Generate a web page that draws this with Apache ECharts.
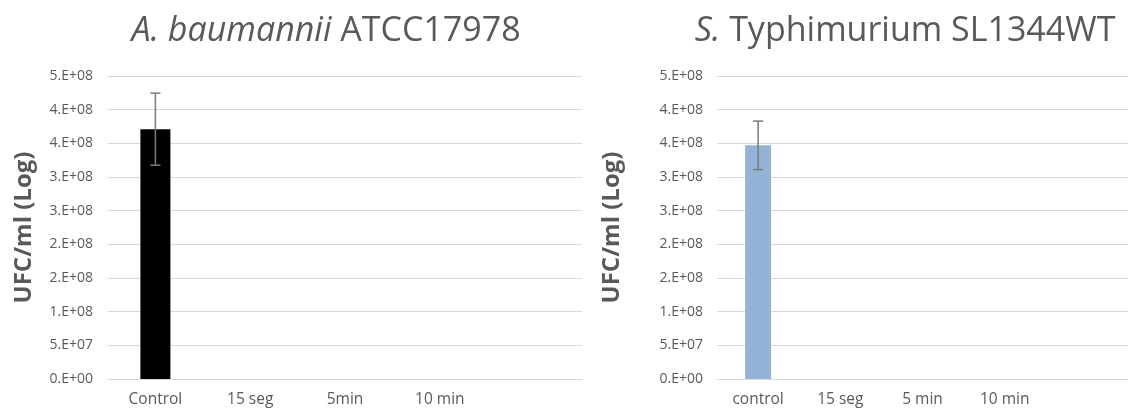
<!DOCTYPE html>
<html>
<head>
<meta charset="utf-8">
<script src="https://cdn.jsdelivr.net/npm/echarts@6/dist/echarts.min.js"></script>
<style>
  html, body { margin: 0; padding: 0; background: #ffffff; }
  #chart { width: 1128px; height: 411px; }
</style>
</head>
<body>
<div id="chart"></div>
<script>
// Viable counts per exposure time for two strains
const categoriesAb = ['Control', '15 seg', '5min', '10 min', ''];
const categoriesSt = ['control', '15 seg', '5 min', '10 min', ''];
const valuesAb = [3.71e8, 0, 0, 0, null];
const errorsAb = [0.535e8, null, null, null, null];
const valuesSt = [3.47e8, 0, 0, 0, null];
const errorsSt = [0.36e8, null, null, null, null];
const yMax = 4.5e8;
const yStep = 5e7;

const FONT = '"Open Sans", sans-serif';
const TEXT = '#595959';
const GRID = '#d9d9d9';

// Excel-style "0.E+00" tick text
function sci(v) {
  if (v === 0) return '0.E+00';
  let e = Math.floor(Math.log10(v) + 1e-9);
  let m = Math.round(v / Math.pow(10, e) + 1e-9);
  if (m >= 10) { m = 1; e += 1; }
  return m + '.E+' + String(e).padStart(2, '0');
}

function yAxisFor(gridIndex, nameGap, margin) {
  return {
    type: 'value', gridIndex, min: 0, max: yMax, interval: yStep,
    name: 'UFC/ml (Log)', nameLocation: 'middle', nameGap,
    nameTextStyle: { fontFamily: FONT, fontSize: 24, fontWeight: 'bold', color: TEXT },
    axisLine: { show: false }, axisTick: { show: false },
    axisLabel: { formatter: sci, fontFamily: FONT, fontSize: 14, color: TEXT, margin },
    splitLine: { lineStyle: { color: GRID, width: 1 } }
  };
}

function xAxisFor(gridIndex, data) {
  return {
    type: 'category', gridIndex, data,
    axisLine: { lineStyle: { color: GRID, width: 1 } },
    axisTick: { show: false },
    axisLabel: { fontFamily: FONT, fontSize: 15.5, color: TEXT, margin: 13, interval: 0 }
  };
}

function errorSeries(idx, values, errors) {
  return {
    type: 'custom', xAxisIndex: idx, yAxisIndex: idx, z: 5,
    data: values.map((v, i) => [i, v, errors[i]]).filter(d => d[2] != null),
    renderItem: function (params, api) {
      const x = api.value(0), v = api.value(1), e = api.value(2);
      const hi = api.coord([x, v + e]);
      const lo = api.coord([x, v - e]);
      const cap = 5;
      const style = { stroke: '#7a7a7a', lineWidth: 1.5 };
      return {
        type: 'group',
        children: [
          { type: 'line', shape: { x1: hi[0], y1: hi[1], x2: lo[0], y2: lo[1] }, style },
          { type: 'line', shape: { x1: hi[0] - cap, y1: hi[1], x2: hi[0] + cap, y2: hi[1] }, style },
          { type: 'line', shape: { x1: lo[0] - cap, y1: lo[1], x2: lo[0] + cap, y2: lo[1] }, style }
        ]
      };
    }
  };
}

const chart = echarts.init(document.getElementById('chart'), null, { renderer: 'canvas' });
chart.setOption({
  animation: false,
  backgroundColor: '#ffffff',
  grid: [
    { left: 108, top: 76, width: 474, height: 303 },
    { left: 717, top: 76, width: 415, height: 303 }
  ],
  xAxis: [xAxisFor(0, categoriesAb), xAxisFor(1, categoriesSt)],
  yAxis: [yAxisFor(0, 72, 15), yAxisFor(1, 93, 14)],
  graphic: [
    {
      type: 'text', x: 326, y: 31,
      style: {
        text: '{i|A. baumannii} ATCC17978',
        align: 'center', verticalAlign: 'middle',
        font: '34px "Open Sans", sans-serif', fill: TEXT,
        rich: { i: { fontStyle: 'italic', fontSize: 34, fontFamily: FONT, fill: TEXT } }
      }
    },
    {
      type: 'text', x: 905, y: 31,
      style: {
        text: '{i|S.} Typhimurium SL1344WT',
        align: 'center', verticalAlign: 'middle',
        font: '34px "Open Sans", sans-serif', fill: TEXT,
        rich: { i: { fontStyle: 'italic', fontSize: 34, fontFamily: FONT, fill: TEXT } }
      }
    }
  ],
  series: [
    { type: 'bar', xAxisIndex: 0, yAxisIndex: 0, data: valuesAb, barWidth: 30,
      itemStyle: { color: '#000000' } },
    { type: 'bar', xAxisIndex: 1, yAxisIndex: 1, data: valuesSt, barWidth: 26,
      itemStyle: { color: '#95b3d7' } },
    errorSeries(0, valuesAb, errorsAb),
    errorSeries(1, valuesSt, errorsSt)
  ]
});
</script>
</body>
</html>
